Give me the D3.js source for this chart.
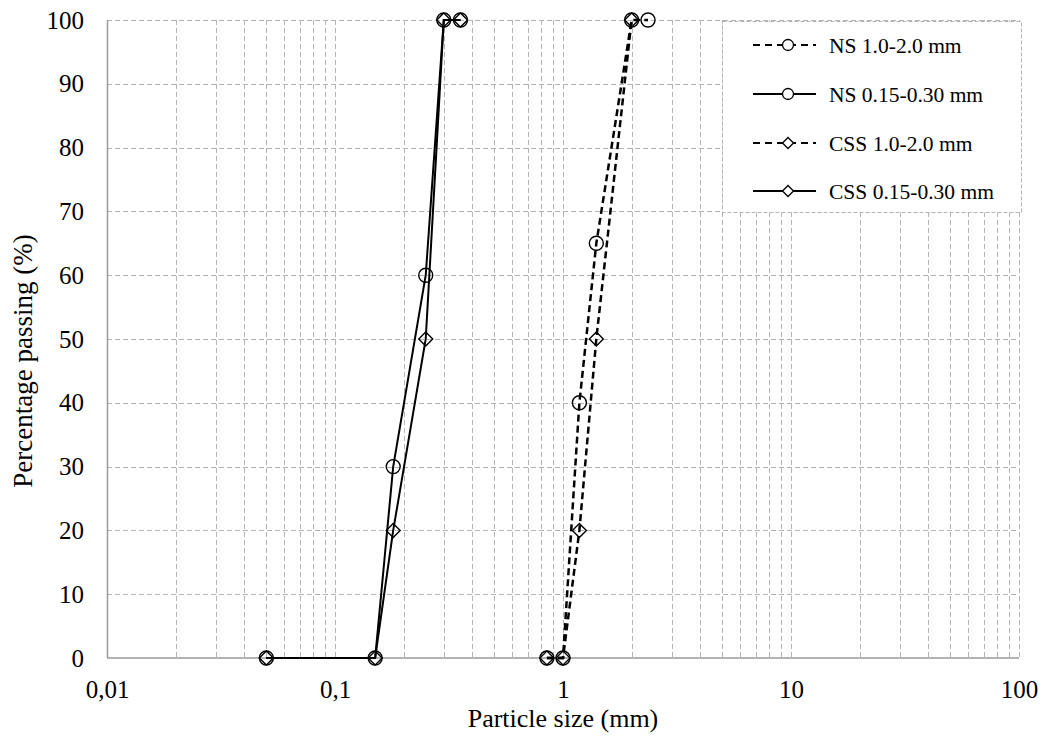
<!DOCTYPE html>
<html lang="en">
<head>
<meta charset="utf-8">
<title>Particle size distribution</title>
<script src="https://d3js.org/d3.v7.min.js"></script>
<style>
  body { margin: 0; background: #fff; }
  text { font-family: "Liberation Serif", "Times New Roman", serif; fill: #000; }
</style>
</head>
<body>
<script>
// data
var xTicks = [0.01, 0.1, 1, 10, 100];
var xTickLabels = ["0,01", "0,1", "1", "10", "100"];
var yTicks = [0, 10, 20, 30, 40, 50, 60, 70, 80, 90, 100];

var seriesNames = ["NS 1.0-2.0 mm", "NS 0.15-0.30 mm", "CSS 1.0-2.0 mm", "CSS 0.15-0.30 mm"];

var sizesNSCoarse = [0.85, 1.0, 1.18, 1.4, 2.0, 2.36];
var passNSCoarse = [0, 0, 40, 65, 100, 100];
var sizesNSFine = [0.05, 0.15, 0.18, 0.25, 0.3, 0.355];
var passNSFine = [0, 0, 30, 60, 100, 100];
var sizesCSSCoarse = [0.85, 1.0, 1.18, 1.4, 2.0];
var passCSSCoarse = [0, 0, 20, 50, 100];
var sizesCSSFine = [0.05, 0.15, 0.18, 0.25, 0.3, 0.355];
var passCSSFine = [0, 0, 20, 50, 100, 100];

function zip(xs, ys) { return xs.map(function(x, i) { return [x, ys[i]]; }); }

var series = [
  { name: seriesNames[0], pts: zip(sizesNSCoarse, passNSCoarse), dashed: true, marker: "circle" },
  { name: seriesNames[1], pts: zip(sizesNSFine, passNSFine), dashed: false, marker: "circle" },
  { name: seriesNames[2], pts: zip(sizesCSSCoarse, passCSSCoarse), dashed: true, marker: "diamond" },
  { name: seriesNames[3], pts: zip(sizesCSSFine, passCSSFine), dashed: false, marker: "diamond" }
];

var width = 1046, height = 736;
var plotLeft = 107, plotRight = 1019, plotTop = 20, plotBottom = 658;

var svg = d3.select("body").append("svg")
    .attr("width", width)
    .attr("height", height);

var x = d3.scaleLog().domain([0.01, 100]).range([plotLeft, plotRight]);
var y = d3.scaleLinear().domain([0, 100]).range([plotBottom, plotTop]);

// grid lines
var vGrid = [];
[0.01, 0.1, 1, 10].forEach(function(d) {
  for (var k = 1; k <= 9; k++) vGrid.push(d * k);
});
vGrid.push(100);
vGrid = vGrid.filter(function(v) { return v > 0.0100001; });

var grid = svg.append("g").attr("class", "grid")
    .attr("stroke", "#b4b4b4")
    .attr("stroke-width", 1)
    .attr("stroke-dasharray", "5,3");

grid.selectAll("line.v").data(vGrid).enter().append("line")
    .attr("class", "v")
    .attr("x1", function(d) { return Math.round(x(d)) + 0.5; })
    .attr("x2", function(d) { return Math.round(x(d)) + 0.5; })
    .attr("y1", plotTop)
    .attr("y2", plotBottom);

grid.selectAll("line.h").data(yTicks.slice(1)).enter().append("line")
    .attr("class", "h")
    .attr("x1", plotLeft)
    .attr("x2", plotRight)
    .attr("y1", function(d) { return Math.round(y(d)) + 0.5; })
    .attr("y2", function(d) { return Math.round(y(d)) + 0.5; });

// axis lines
svg.append("line")
    .attr("x1", plotLeft + 0.5).attr("x2", plotLeft + 0.5)
    .attr("y1", plotTop).attr("y2", plotBottom)
    .attr("stroke", "#9a9a9a").attr("stroke-width", 1.5);
svg.append("line")
    .attr("x1", plotLeft).attr("x2", plotRight)
    .attr("y1", plotBottom).attr("y2", plotBottom)
    .attr("stroke", "#9a9a9a").attr("stroke-width", 1.5);

// axes (labels only)
var xAxis = svg.append("g")
    .attr("transform", "translate(0," + plotBottom + ")")
    .call(d3.axisBottom(x)
      .tickValues(xTicks)
      .tickSize(0)
      .tickPadding(22)
      .tickFormat(function(d, i) { return xTickLabels[i]; }));
xAxis.select(".domain").remove();
xAxis.selectAll("text")
    .attr("font-size", 25)
    .attr("font-family", "'Liberation Serif', 'Times New Roman', serif")
    .attr("fill", "#000");

var yAxis = svg.append("g")
    .attr("transform", "translate(" + plotLeft + ",0)")
    .call(d3.axisLeft(y)
      .tickValues(yTicks)
      .tickSize(0)
      .tickPadding(23));
yAxis.select(".domain").remove();
yAxis.selectAll("text")
    .attr("font-size", 25)
    .attr("font-family", "'Liberation Serif', 'Times New Roman', serif")
    .attr("fill", "#000");

// axis titles
svg.append("text")
    .attr("x", (plotLeft + plotRight) / 2)
    .attr("y", 727)
    .attr("text-anchor", "middle")
    .attr("font-size", 26)
    .text("Particle size (mm)");

svg.append("text")
    .attr("transform", "translate(32,361) rotate(-90)")
    .attr("text-anchor", "middle")
    .attr("font-size", 27)
    .text("Percentage passing (%)");

// series
var line = d3.line()
    .x(function(d) { return x(d[0]); })
    .y(function(d) { return y(d[1]); });

var diamond = function(s) { return "M0," + (-s) + "L" + s + ",0L0," + s + "L" + (-s) + ",0Z"; };

function drawMarker(g, type) {
  if (type === "circle") {
    g.append("circle").attr("r", 7)
      .attr("fill", "none").attr("stroke", "#000").attr("stroke-width", 1.4);
  } else {
    g.append("path").attr("d", diamond(7))
      .attr("fill", "none").attr("stroke", "#000").attr("stroke-width", 1.4);
  }
}

var plot = svg.append("g").attr("class", "series");

series.forEach(function(s) {
  plot.append("path")
      .datum(s.pts)
      .attr("d", line)
      .attr("fill", "none")
      .attr("stroke", "#000")
      .attr("stroke-width", s.dashed ? 2.5 : 2)
      .attr("stroke-dasharray", s.dashed ? "7,4" : null);
});

series.forEach(function(s) {
  plot.selectAll(null)
      .data(s.pts)
      .enter().append("g")
      .attr("transform", function(d) { return "translate(" + x(d[0]) + "," + y(d[1]) + ")"; })
      .each(function() { drawMarker(d3.select(this), s.marker); });
});

// legend
var legend = svg.append("g").attr("class", "legend");
legend.append("rect")
    .attr("x", 722.5).attr("y", 21.5)
    .attr("width", 299).attr("height", 191)
    .attr("fill", "#fff")
    .attr("stroke", "#b4b4b4")
    .attr("stroke-dasharray", "4,2");

var rowY = [45, 94, 143, 191];
series.forEach(function(s, i) {
  var row = legend.append("g").attr("transform", "translate(0," + rowY[i] + ")");
  row.append("line")
      .attr("x1", 753).attr("x2", 816)
      .attr("stroke", "#000")
      .attr("stroke-width", 1.8)
      .attr("stroke-dasharray", s.dashed ? "7,5" : null);
  var m = row.append("g").attr("transform", "translate(788,0)");
  if (s.marker === "circle") {
    m.append("circle").attr("r", 5.5).attr("fill", "#fff").attr("stroke", "#000").attr("stroke-width", 1.3);
  } else {
    m.append("path").attr("d", diamond(5.5)).attr("fill", "#fff").attr("stroke", "#000").attr("stroke-width", 1.3);
  }
  row.append("text")
      .attr("x", 829)
      .attr("dy", "0.35em")
      .attr("font-size", 21.5)
      .text(s.name);
});
</script>
</body>
</html>
